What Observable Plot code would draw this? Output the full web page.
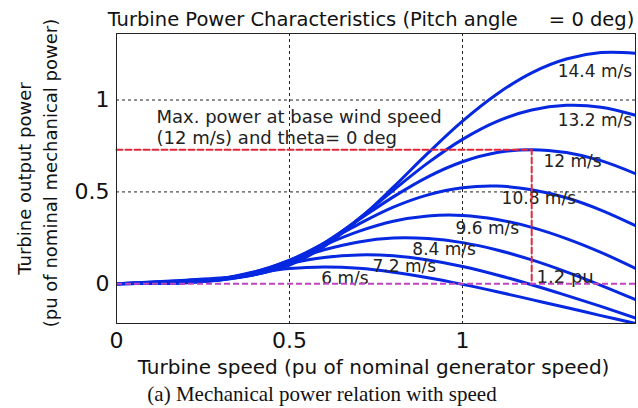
<!DOCTYPE html>
<html>
<head>
<meta charset="utf-8">
<script src="https://cdn.jsdelivr.net/npm/d3@7"></script>
<script src="https://cdn.jsdelivr.net/npm/@observablehq/plot@0.6"></script>
<style>
  body { margin: 0; background: #fff; width: 638px; height: 408px; overflow: hidden; position: relative; }
  #chart { position: absolute; left: 0; top: 0; }
  #caption { position: absolute; left: 3px; top: 380px; width: 638px; height: 28px; line-height: 28px;
             text-align: center; font-family: "Liberation Serif", "Times New Roman", serif; font-size: 21px; color: #111; }
</style>
</head>
<body>
<div id="chart"></div>
<div id="caption">(a) Mechanical power relation with speed</div>
<script>
// Turbine speed (pu of nominal generator speed)
const speed = [0, 0.1, 0.2, 0.3, 0.4, 0.5, 0.6, 0.7, 0.8, 0.9, 1.0, 1.1, 1.2, 1.3, 1.4, 1.5];

// Turbine output power (pu) for each wind speed
const p6   = [0, 0.002, 0.006, 0.028, 0.059, 0.083, 0.091, 0.084, 0.063, 0.033, -0.003, -0.043, -0.086, -0.129, -0.173, -0.216];
const p7_2 = [0, 0.003, 0.006, 0.025, 0.066, 0.111, 0.143, 0.157, 0.152, 0.129, 0.094, 0.048, -0.005, -0.063, -0.123, -0.186];
const p8_4 = [0, 0.003, 0.007, 0.023, 0.065, 0.125, 0.185, 0.228, 0.249, 0.246, 0.224, 0.184, 0.130, 0.065, -0.008, -0.086];
const p9_6 = [0, 0.004, 0.009, 0.021, 0.060, 0.129, 0.211, 0.285, 0.340, 0.369, 0.372, 0.350, 0.307, 0.246, 0.171, 0.084];
const p10_8 = [0, 0.006, 0.011, 0.021, 0.055, 0.125, 0.222, 0.325, 0.417, 0.484, 0.523, 0.532, 0.512, 0.468, 0.401, 0.316];
const p12  = [0, 0.007, 0.014, 0.023, 0.051, 0.117, 0.222, 0.348, 0.473, 0.582, 0.664, 0.714, 0.730, 0.714, 0.670, 0.599];
const p13_2 = [0, 0.008, 0.017, 0.027, 0.050, 0.109, 0.214, 0.354, 0.509, 0.658, 0.786, 0.884, 0.946, 0.971, 0.961, 0.917];
const p14_4 = [0, 0.010, 0.020, 0.031, 0.051, 0.102, 0.203, 0.350, 0.526, 0.711, 0.885, 1.033, 1.148, 1.223, 1.258, 1.255];

const windNames = ["6 m/s", "7.2 m/s", "8.4 m/s", "9.6 m/s", "10.8 m/s", "12 m/s", "13.2 m/s", "14.4 m/s"];
const windSeries = [p6, p7_2, p8_4, p9_6, p10_8, p12, p13_2, p14_4];

// curve label anchor positions (left edge, baseline) in data units
const labelSpeed = [0.592, 0.740, 0.855, 0.980, 1.113, 1.234, 1.275, 1.275];
const labelPower = [0.000, 0.065, 0.158, 0.272, 0.436, 0.638, 0.856, 1.123];

// max power reference point at base wind speed
const refSpeed = [0, 1.2, 1.2];
const refPower = [0.73, 0.73, 0];

// annotations
const noteLines = ["Max. power at base wind speed", "(12 m/s) and theta= 0 deg", "1.2 pu"];
const noteSpeed = [0.1156, 0.1156, 1.214];
const notePower = [0.877, 0.763, 0.005];

// axes
const xTicks = [0, 0.5, 1];
const yTicks = [0, 0.5, 1];
const xGrid = [0.5, 1];
const yGrid = [0.5, 1];
const xDomain = [0, 1.5];
const yDomain = [-0.216, 1.362];

const titleText = "Turbine Power Characteristics (Pitch angle\u00a0\u00a0\u00a0\u00a0\u00a0= 0 deg)";
const xLabel = "Turbine speed (pu of nominal generator speed)";
const yLabel1 = "Turbine output power";
const yLabel2 = "(pu of nominal mechanical power)";

const rows = windSeries.flatMap((vals, k) => vals.map((p, i) => ({wind: windNames[k], speed: speed[i], power: p})));
const labelRows = windNames.map((n, k) => ({text: n, speed: labelSpeed[k], power: labelPower[k]}));
const refRows = refSpeed.map((s, i) => ({speed: s, power: refPower[i]}));
const noteRows = noteLines.map((t, i) => ({text: t, speed: noteSpeed[i], power: notePower[i]}));

const fmt = d => String(d);

const chart = Plot.plot({
  width: 638,
  height: 380,
  marginLeft: 116,
  marginRight: 3,
  marginTop: 33,
  marginBottom: 57,
  style: {fontFamily: "DejaVu Sans", fontSize: "22px", background: "#fff", color: "#111"},
  x: {domain: xDomain, ticks: xTicks, tickFormat: fmt, tickSize: 0, tickPadding: 9, label: null},
  y: {domain: yDomain, ticks: yTicks, tickFormat: fmt, tickSize: 0, tickPadding: 7, label: null},
  marks: [
    Plot.ruleX(xGrid, {stroke: "#222", strokeWidth: 1, strokeDasharray: "3,3"}),
    Plot.ruleY(yGrid, {stroke: "#222", strokeWidth: 1, strokeDasharray: "3,3"}),
    Plot.line(rows, {x: "speed", y: "power", z: "wind", stroke: "#0628e0", strokeWidth: 3, curve: "catmull-rom", clip: true}),
    Plot.text(labelRows, {x: "speed", y: "power", text: "text", textAnchor: "start", lineAnchor: "bottom", fontSize: 17, fill: "#222"}),
    Plot.text(noteRows, {x: "speed", y: "power", text: "text", textAnchor: "start", lineAnchor: "bottom", fontSize: 18, fill: "#222"}),
    Plot.line(refRows, {x: "speed", y: "power", stroke: "#e0283c", strokeWidth: 2, strokeDasharray: "6,3"}),
    Plot.ruleY([0], {stroke: "#c043c0", strokeWidth: 2, strokeDasharray: "6,3"}),
    Plot.frame({stroke: "#222", strokeWidth: 1}),
    Plot.text([titleText], {text: d => d, frameAnchor: "top", textAnchor: "middle", lineAnchor: "bottom", dx: -5, dy: -7.5, fontSize: 19.5, fill: "#111"}),
    Plot.text([xLabel], {text: d => d, frameAnchor: "bottom", textAnchor: "middle", lineAnchor: "bottom", dx: -2.5, dy: 50, fontSize: 20, fill: "#111"}),
    Plot.text([yLabel1], {text: d => d, frameAnchor: "left", textAnchor: "middle", lineAnchor: "bottom", rotate: -90, dx: -85.5, dy: 0, fontSize: 18, fill: "#111"}),
    Plot.text([yLabel2], {text: d => d, frameAnchor: "left", textAnchor: "middle", lineAnchor: "bottom", rotate: -90, dx: -59.3, dy: -5.5, fontSize: 18, fill: "#111"})
  ]
});
document.getElementById("chart").appendChild(chart);
</script>
</body>
</html>
